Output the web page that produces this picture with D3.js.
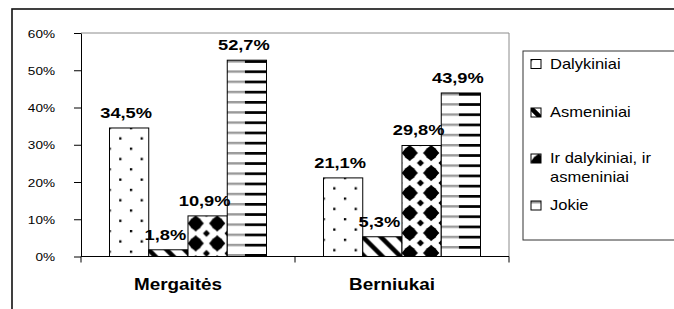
<!DOCTYPE html>
<html>
<head>
<meta charset="utf-8">
<script src="https://cdn.jsdelivr.net/npm/d3@7"></script>
<style>
    body { margin: 0; background: #fff; }
    svg { display: block; font-family: "Liberation Sans", Arial, sans-serif; }
</style>
</head>
<body>
<div id="chart"></div>
<script>
categories = ["Mergaitės", "Berniukai"];
seriesNames = ["Dalykiniai", "Asmeniniai", "Ir dalykiniai, ir asmeniniai", "Jokie"];
dalykiniai = [34.5, 21.1];
asmeniniai = [1.8, 5.3];
abu = [10.9, 29.8];
jokie = [52.7, 43.9];
yTicks = [0, 10, 20, 30, 40, 50, 60];
legendLines = [["Dalykiniai"], ["Asmeniniai"], ["Ir dalykiniai, ir", "asmeniniai"], ["Jokie"]];

width = 674;
height = 309;
margin = ({top: 33, right: 165, bottom: 52.5, left: 81});
SX = 1.18; // the source picture is a little wider than tall

// text is stretched horizontally like in the original
stretch = (sel, x, y) => sel.attr("transform", `translate(${x},${y}) scale(${SX},1)`);

const svg = d3.select("#chart").append("svg")
    .attr("width", width)
    .attr("height", height);

const x0 = d3.scaleBand()
    .domain(categories)
    .range([margin.left, width - margin.right]);

const x1 = d3.scaleBand()
    .domain(seriesNames)
    .range([0, x0.bandwidth()])
    .paddingOuter(0.726);

const y = d3.scaleLinear()
    .domain([0, 60])
    .range([height - margin.bottom, margin.top]);

const bw = x1.bandwidth();

// patterns
const defs = svg.append("defs");

const pDots = defs.append("pattern").attr("id", "p0")
    .attr("patternUnits", "userSpaceOnUse")
    .attr("x", -1).attr("y", -1)
    .attr("width", 21.4).attr("height", 20.6);
pDots.append("rect").attr("width", 21.4).attr("height", 20.6).attr("fill", "#fff");
pDots.append("rect").attr("x", 0).attr("y", 0).attr("width", 2.3).attr("height", 2.3).attr("fill", "#000");
pDots.append("rect").attr("x", 10.7).attr("y", 10.3).attr("width", 2.3).attr("height", 2.3).attr("fill", "#000");

const pDiag = defs.append("pattern").attr("id", "p1")
    .attr("patternUnits", "userSpaceOnUse")
    .attr("width", 18).attr("height", 18);
pDiag.append("rect").attr("width", 18).attr("height", 18).attr("fill", "#fff");
pDiag.append("path")
    .attr("d", "M-4,-4L22,22M-4,14L4,22M14,-4L22,4")
    .attr("stroke", "#000")
    .attr("stroke-width", 4.5);

// big rounded diamonds in two columns, small ones in between
const dw = 21.5, dh = 20;
const pDia = defs.append("pattern").attr("id", "p2")
    .attr("patternUnits", "userSpaceOnUse")
    .attr("x", 7.7 - dw / 2).attr("y", 7.5 - dh / 2)
    .attr("width", dw).attr("height", dh);
pDia.append("rect").attr("width", dw).attr("height", dh).attr("fill", "#fff");
const diamond = (cx, cy, s) => `M${cx},${cy - s}L${cx + s},${cy}L${cx},${cy + s}L${cx - s},${cy}Z`;
pDia.append("path").attr("d", diamond(dw / 2, dh / 2, 8.2)).attr("fill", "#000");
pDia.append("circle").attr("cx", dw / 2).attr("cy", dh / 2).attr("r", 6.3).attr("fill", "#000");
[[0, 0], [dw, 0], [0, dh], [dw, dh]].forEach(([cx, cy]) => {
    pDia.append("path").attr("d", diamond(cx, cy, 3.5)).attr("fill", "#000");
});

const pStripe = defs.append("pattern").attr("id", "p3")
    .attr("patternUnits", "userSpaceOnUse")
    .attr("width", bw).attr("height", 10.2);
pStripe.append("rect").attr("width", bw).attr("height", 10.2).attr("fill", "#fff");
pStripe.append("rect").attr("x", 0).attr("y", 0).attr("width", bw * 0.45).attr("height", 2.4).attr("fill", "#9a9a9a");
pStripe.append("rect").attr("x", bw * 0.45).attr("y", 0).attr("width", bw * 0.55).attr("height", 2.7).attr("fill", "#000");

// outer frame (cut off on the right and bottom)
svg.append("rect")
    .attr("x", 12).attr("y", 9)
    .attr("width", 700).attr("height", 400)
    .attr("fill", "none")
    .attr("stroke", "#111")
    .attr("stroke-width", 1.6);

// plot area border
svg.append("path")
    .attr("d", `M${margin.left},${margin.top}H${width - margin.right}V${y(0)}`)
    .attr("fill", "none")
    .attr("stroke", "#8c8c8c")
    .attr("stroke-width", 1);

// bars
const table = [dalykiniai, asmeniniai, abu, jokie];
const bars = [];
categories.forEach((c, ci) => {
    seriesNames.forEach((s, si) => {
        bars.push({cat: c, series: s, si: si, value: table[si][ci]});
    });
});

const bar = svg.append("g")
    .selectAll("g")
    .data(bars)
    .join("g")
    .attr("transform", d => `translate(${x0(d.cat) + x1(d.series)},${y(d.value)})`);

bar.append("rect")
    .attr("width", bw)
    .attr("height", d => y(0) - y(d.value))
    .attr("fill", d => `url(#p${d.si})`)
    .attr("stroke", "#000")
    .attr("stroke-width", 1);

// value labels
svg.append("g")
    .attr("font-size", 15.5)
    .attr("font-weight", "bold")
    .attr("text-anchor", "middle")
    .selectAll("text")
    .data(bars)
    .join("text")
    .each(function(d) {
        stretch(d3.select(this), x0(d.cat) + x1(d.series) + bw / 2 - 3, y(d.value) - 10);
    })
    .text(d => d.value.toFixed(1).replace(".", ",") + "%");

// y axis
svg.append("g")
    .attr("transform", `translate(${margin.left},0)`)
    .call(d3.axisLeft(y).tickValues(yTicks).tickSize(7).tickSizeOuter(0).tickFormat(d => d + "%"))
    .call(g => g.select(".domain").attr("stroke", "#000"))
    .call(g => g.selectAll(".tick line").attr("stroke", "#000"))
    .call(g => g.selectAll(".tick text")
        .attr("x", null)
        .attr("dy", "0.35em")
        .attr("fill", "#000")
        .attr("font-size", 11.5)
        .attr("font-family", "Liberation Sans, Arial, sans-serif")
        .attr("transform", `translate(-26,0) scale(${SX},1)`));

// x axis
const xa = svg.append("g").attr("stroke", "#000");
xa.append("line")
    .attr("x1", margin.left).attr("x2", width - margin.right)
    .attr("y1", y(0)).attr("y2", y(0));
xa.selectAll(".xt")
    .data(categories.map(c => x0(c)).concat([width - margin.right]))
    .join("line")
    .attr("class", "xt")
    .attr("x1", d => d).attr("x2", d => d)
    .attr("y1", y(0)).attr("y2", y(0) + 6);

svg.append("g")
    .attr("font-size", 16)
    .attr("font-weight", "bold")
    .attr("text-anchor", "middle")
    .selectAll("text")
    .data(categories)
    .join("text")
    .each(function(d) {
        stretch(d3.select(this), x0(d) + x0.bandwidth() / 2 - 10, 290);
    })
    .text(d => d);

// legend
const legendTop = 51;
svg.append("rect")
    .attr("x", 523).attr("y", legendTop)
    .attr("width", 200).attr("height", 189)
    .attr("fill", "none")
    .attr("stroke", "#333")
    .attr("stroke-width", 1);

const baselines = [68.5, 117, 163, 210];
const lg = svg.append("g")
    .selectAll("g")
    .data(legendLines)
    .join("g")
    .attr("transform", (d, i) => `translate(531,${baselines[i] - 9})`);

lg.append("rect")
    .attr("width", 10)
    .attr("height", 9)
    .attr("fill", (d, i) => `url(#p${i})`)
    .attr("stroke", "#000")
    .attr("stroke-width", 1);

lg.each(function(lines) {
    const g = d3.select(this);
    lines.forEach((t, j) => {
        g.append("text")
            .attr("font-size", 14)
            .call(s => stretch(s, 19, 9 + j * 19))
            .text(t);
    });
});
</script>
</body>
</html>
